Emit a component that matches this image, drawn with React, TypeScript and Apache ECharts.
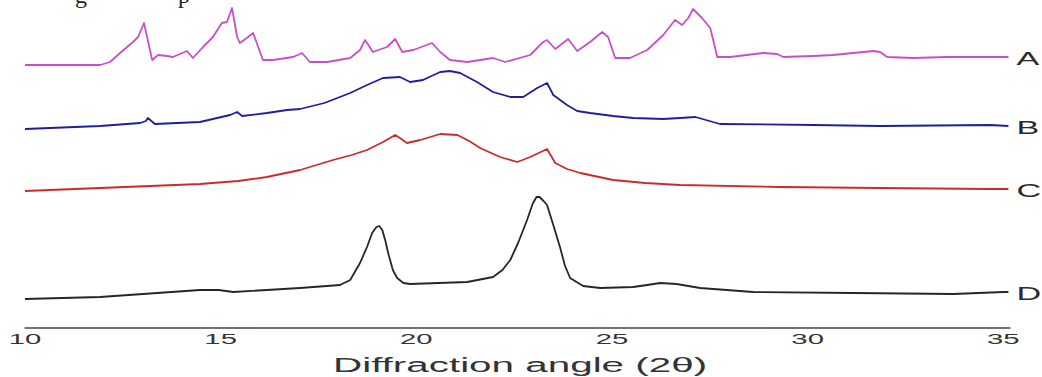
import React, { useEffect, useRef } from "react";
import * as echarts from "echarts";

// Diffraction angle (2θ) vs. intensity (offset, arbitrary units)
const curveA: [number, number][] = [
  [9.95, 263], [11.87, 263], [12.12, 266], [12.38, 275], [12.71, 286], [12.84, 291], [12.99, 305],
  [13.2, 268], [13.35, 273], [13.58, 272], [13.73, 271], [14.09, 277], [14.24, 270], [14.5, 281],
  [14.75, 291], [14.98, 305], [15.11, 306], [15.24, 320], [15.37, 291], [15.44, 285], [15.65, 291],
  [15.78, 295], [16.03, 268], [16.29, 268], [16.8, 271], [17.03, 275], [17.23, 266], [17.67, 266],
  [18.26, 270], [18.51, 278], [18.64, 288], [18.84, 276], [19.2, 281], [19.41, 289], [19.59, 276],
  [19.87, 278], [20.35, 285], [20.56, 276], [20.81, 268], [21.25, 266], [21.58, 268], [21.91, 270],
  [22.22, 266], [22.86, 273], [23.19, 286], [23.29, 288], [23.5, 279], [23.83, 289], [24.06, 277],
  [24.39, 286], [24.7, 296], [24.85, 291], [25.03, 270], [25.41, 270], [25.85, 278], [26.26, 293],
  [26.56, 308], [26.74, 303], [26.9, 310], [27.02, 319], [27.25, 310], [27.46, 300], [27.64, 271],
  [27.97, 271], [28.81, 275], [29.17, 274], [29.33, 271], [30.09, 272], [30.6, 273], [31.63, 277],
  [31.8, 276], [31.98, 271], [32.65, 270], [33.52, 271], [34.67, 271], [35.08, 271],
];

const curveB: [number, number][] = [
  [9.95, 199], [11.87, 202], [12.89, 205], [13.04, 207], [13.09, 210], [13.27, 204], [14.42, 206],
  [15.19, 213], [15.37, 216], [15.5, 212], [16.13, 215], [16.65, 218], [16.98, 219], [17.6, 225],
  [18.26, 235], [18.69, 243], [19.1, 250], [19.53, 251], [19.79, 246], [20.12, 248], [20.56, 256],
  [20.81, 257], [21.07, 255], [21.5, 246], [21.91, 236], [22.35, 231], [22.68, 231], [23.04, 240],
  [23.29, 245], [23.45, 233], [23.8, 223], [24.06, 217], [24.39, 215], [24.98, 212], [25.49, 210],
  [26.26, 209], [26.69, 210], [27.08, 211], [27.71, 204], [30.09, 203], [31.8, 202], [34.62, 203],
  [35.08, 202],
];

const curveC: [number, number][] = [
  [9.95, 137], [11.87, 140], [14.42, 144], [15.4, 147], [16.13, 151], [16.98, 158], [17.82, 168],
  [18.3, 173], [18.69, 178], [19.1, 186], [19.41, 193], [19.53, 190], [19.71, 185], [20.05, 188],
  [20.56, 194], [21.0, 193], [21.3, 187], [21.58, 180], [22.09, 171], [22.53, 166], [22.86, 171],
  [23.29, 179], [23.5, 165], [23.8, 159], [24.14, 155], [24.98, 148], [25.8, 145], [26.69, 143],
  [29.25, 141], [31.8, 140], [34.62, 139], [35.08, 139],
];

const curveD: [number, number][] = [
  [9.95, 29], [11.87, 31], [14.42, 38], [14.9, 38], [15.27, 36], [16.98, 40], [18.0, 43], [18.26, 48],
  [18.51, 65], [18.69, 81], [18.82, 95], [18.93, 101], [19.0, 102], [19.08, 98], [19.16, 87],
  [19.23, 75], [19.35, 58], [19.46, 50], [19.62, 45], [19.79, 44], [21.25, 46], [21.91, 51],
  [22.15, 58], [22.35, 68], [22.55, 85], [22.78, 108], [22.92, 124], [23.02, 131], [23.1, 131],
  [23.2, 127], [23.29, 123], [23.45, 103], [23.62, 81], [23.75, 62], [23.88, 50], [24.21, 42],
  [24.65, 40], [25.49, 41], [25.85, 43], [26.18, 45], [26.6, 44], [27.2, 40], [28.56, 36],
  [31.11, 35], [33.67, 34], [34.95, 36], [35.08, 36],
];

const seriesNames = ["A", "B", "C", "D"];
const seriesColors = ["#c94fc9", "#1f1f9e", "#cc2a2a", "#262626"];
const tickValues = [10, 15, 20, 25, 30, 35];
const axisTitle = "Diffraction angle (2θ)";

export default function App() {
  const ref = useRef<HTMLDivElement>(null);

  useEffect(() => {
    if (!ref.current) return;
    const chart = echarts.init(ref.current, undefined, { renderer: "svg" });
    const curves = [curveA, curveB, curveC, curveD];
    chart.setOption({
      animation: false,
      backgroundColor: "#ffffff",
      grid: { left: 25, right: 32, top: 0, bottom: 49, containLabel: false },
      xAxis: {
        type: "value",
        min: 9.95,
        max: 35.12,
        axisLine: { show: true, onZero: false, lineStyle: { color: "#444", width: 1.5 } },
        axisTick: { show: false },
        axisLabel: { show: false },
        splitLine: { show: false },
      },
      yAxis: {
        type: "value",
        min: 0,
        max: 328,
        show: false,
        splitLine: { show: false },
      },
      series: curves.map((c, i) => ({
        type: "line",
        name: seriesNames[i],
        data: c,
        showSymbol: false,
        symbol: "none",
        smooth: false,
        lineStyle: { color: seriesColors[i], width: 1.8, join: "round" },
        silent: true,
      })),
    });

    const px = (x: number, y: number) =>
      chart.convertToPixel({ xAxisIndex: 0, yAxisIndex: 0 }, [x, y]) as number[];
    const axisY = px(10, 0)[1];
    const graphics: any[] = [];
    tickValues.forEach((t) => {
      const p = px(t, 0);
      graphics.push({
        type: "text",
        x: p[0] - 2,
        y: axisY + 11,
        scaleX: 1.95,
        style: {
          text: String(t),
          x: 0,
          y: 0,
          align: "center",
          verticalAlign: "middle",
          fill: "#333",
          font: "15px 'Liberation Sans', Arial, sans-serif",
        },
      });
    });
    const tp = px(22.6, 0);
    graphics.push({
      type: "text",
      x: tp[0],
      y: axisY + 37,
      scaleX: 2.02,
      style: {
        text: axisTitle,
        x: 0,
        y: 0,
        align: "center",
        verticalAlign: "middle",
        fill: "#333",
        font: "20px 'Liberation Sans', Arial, sans-serif",
      },
    });
    curves.forEach((c, i) => {
      const last = c[c.length - 1];
      const p = px(last[0], last[1]);
      graphics.push({
        type: "text",
        x: p[0] + 8,
        y: p[1] + 2,
        scaleX: 1.9,
        style: {
          text: seriesNames[i],
          x: 0,
          y: 0,
          align: "left",
          verticalAlign: "middle",
          fill: "#2a2a2a",
          font: "18px 'Liberation Sans', Arial, sans-serif",
        },
      });
    });
    // cropped caption fragment at the very top (only descenders visible, as in the source)
    graphics.push({
      type: "text",
      x: 75,
      y: -5,
      style: { text: "g", x: 0, y: 0, align: "left", verticalAlign: "middle", fill: "#222", font: "24px 'Liberation Serif', serif" },
    });
    graphics.push({
      type: "text",
      x: 178,
      y: -5,
      style: { text: "p", x: 0, y: 0, align: "left", verticalAlign: "middle", fill: "#222", font: "24px 'Liberation Serif', serif" },
    });
    chart.setOption({ graphic: graphics });

    return () => chart.dispose();
  }, []);

  return (
    <div
      ref={ref}
      style={{ position: "absolute", left: 0, top: 0, width: 1042, height: 377 }}
    />
  );
}
